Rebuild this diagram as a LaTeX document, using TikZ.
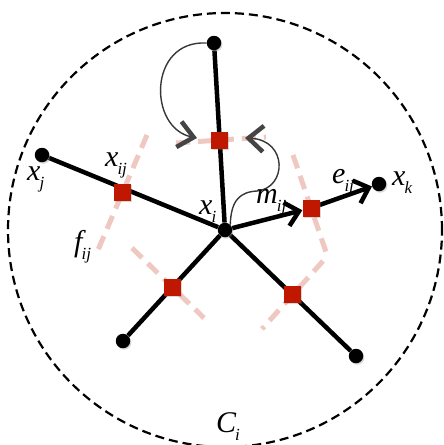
\documentclass[tikz,border=0pt]{standalone}
\usepackage{fontspec}
\setmainfont{Liberation Serif}
\usetikzlibrary{arrows.meta,shadows}
\pgfdeclarelayer{bg}
\pgfsetlayers{bg,main}

\definecolor{sqred}{RGB}{192,24,0}
\definecolor{facepink}{RGB}{240,200,194}
\definecolor{curvegray}{RGB}{55,55,55}
\definecolor{tipgray}{RGB}{68,68,68}

\newcommand{\lbl}[2]{{\fontsize{30}{30}\selectfont\itshape #1}\kern-1pt\raisebox{-8pt}{\fontsize{17}{17}\selectfont\itshape #2}}

\tikzset{
  vert/.style={circle, fill=black, minimum size=14.5pt, inner sep=0pt,
    drop shadow={shadow xshift=1.2pt, shadow yshift=-1.5pt, opacity=0.3}},
  sq/.style={rectangle, fill=sqred, minimum size=17pt, inner sep=0pt,
    drop shadow={shadow xshift=1.2pt, shadow yshift=-1.5pt, opacity=0.3}},
  edge/.style={line width=4.5pt, draw=black},
  face/.style={line width=5pt, draw=facepink, dash pattern=on 14pt off 8pt},
  curv/.style={line width=1.4pt, draw=curvegray},
  chev/.style={-{Straight Barb[length=15pt, width=26pt, line width=4.5pt, color=tipgray]}},
  barb/.style={-{Straight Barb[length=13pt, width=24pt, line width=4.5pt]}},
  lab/.style={inner sep=0pt, anchor=base west},
  cell/.style={line width=2.2pt, dash pattern=on 9pt off 5pt, draw=black},
}

\begin{document}
\begin{tikzpicture}[x=1pt, y=-1pt]
\useasboundingbox (0,0) rectangle (444,445);

% vertices
\node[vert] (xi)  at (225,230) {};
\node[vert] (top) at (214,43) {};
\node[vert] (xj)  at (42,155) {};
\node[vert] (xk)  at (379,184) {};
\node[vert] (bl)  at (123,341) {};
\node[vert] (br)  at (356,356) {};

% face points
\node[sq] (sqT) at (219,140) {};
\node[sq] (sqL) at (122,192) {};
\node[sq] (sqR) at (311,208) {};
\node[sq] (sqBL) at (172,287) {};
\node[sq] (sqBR) at (292,294) {};

\coordinate (fT1) at (176,143);
\coordinate (fT2) at (266,137);
\coordinate (fL1) at (147,135);
\coordinate (fL2) at (98,250);
\coordinate (fR1) at (293,155);
\coordinate (fR2) at (326,252);
\coordinate (fBL1) at (132,248);
\coordinate (fBL2) at (204,318);
\coordinate (fBR1) at (323,261);
\coordinate (fBR2) at (262,329);

\coordinate (tipL) at (197,138);
\coordinate (tipR) at (245,138);

\begin{pgfonlayer}{bg}
  % cell boundary
  \draw[cell] (xi) circle (217pt);
  % faces
  \draw[face] (fT1) -- (fT2);
  \draw[face] (fL1) -- (fL2);
  \draw[face] (fR1) -- (fR2);
  \draw[face] (fBL1) -- (fBL2);
  \draw[face] (fBR1) -- (fBR2);
  % edges
  \draw[edge] (xi) -- (top);
  \draw[edge] (xi) -- (xj);
  \draw[edge] (xi) -- (bl);
  \draw[edge] (xi) -- (br);
  \draw[edge, barb] (xi) -- (sqR);
  \draw[edge, barb] (sqR) -- (xk);
  % curved arrows
  \draw[curv, chev] (top.west) .. controls (148,40) and (148,128) .. (tipL);
  \draw[curv, chev] (xi.north east) .. controls (231,200) and (240,192) .. (257,191)
     .. controls (287,188) and (288,140) .. (tipR);
\end{pgfonlayer}

% labels
\node[lab] (lxj)  at (27,180)  {\lbl{x}{j}};
\node[lab] (lxij) at (105,166) {\lbl{x}{ij}};
\node[lab] (lxi)  at (199,214) {\lbl{x}{i}};
\node[lab] (lmij) at (256,203) {\lbl{m}{ij}};
\node[lab] (leij) at (332,183) {\lbl{e}{ij}};
\node[lab] (lxk)  at (392,185) {\lbl{x}{k}};
\node[lab] (lfij) at (74,251)  {\lbl{f}{ij}};
\node[lab] (lci)  at (216,432) {\lbl{C}{i}};
\end{tikzpicture}
\end{document}
